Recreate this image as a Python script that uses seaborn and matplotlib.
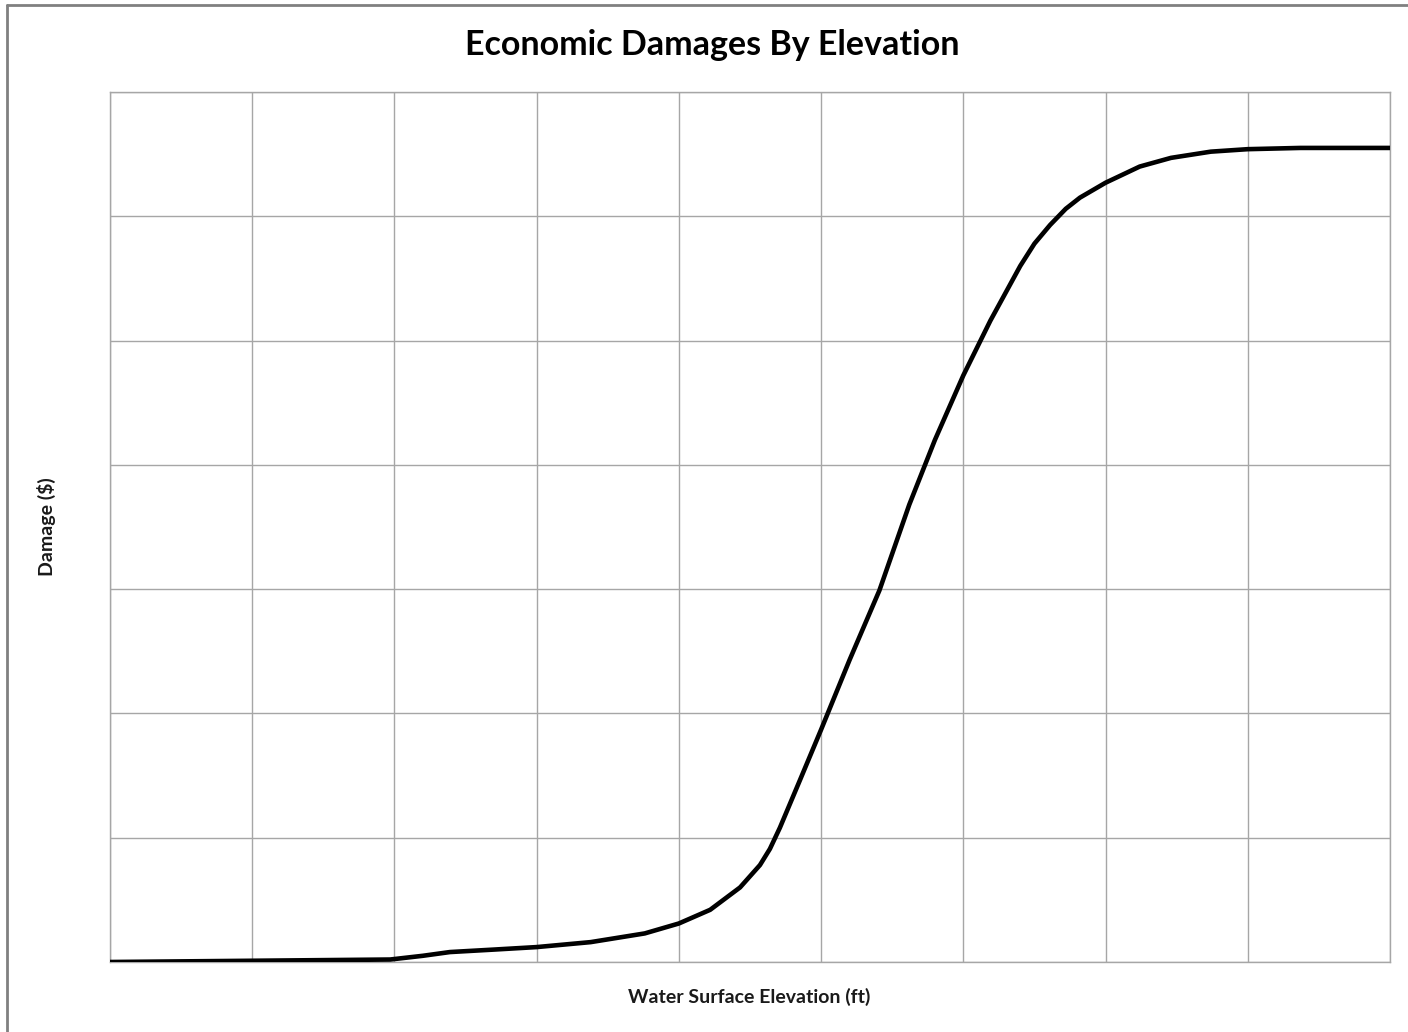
import matplotlib
matplotlib.use("Agg")
import matplotlib.pyplot as plt
import seaborn as sns
import pandas as pd
from matplotlib.lines import Line2D

# Data (grid units)
elevation = [0.0, 1.0, 1.97, 2.2, 2.39, 2.7, 3.0, 3.38, 3.76, 4.0, 4.22, 4.43, 4.57,
             4.64, 4.71, 4.85, 5.0, 5.2, 5.41, 5.62, 5.8, 6.0, 6.19, 6.4, 6.5, 6.61, 6.72,
             6.82, 7.0, 7.24, 7.46, 7.74, 8.0, 8.37, 9.0]
damage = [0.0, 0.01, 0.02, 0.05, 0.08, 0.10, 0.12, 0.16, 0.23, 0.31, 0.42, 0.60, 0.78,
          0.91, 1.08, 1.46, 1.87, 2.43, 2.99, 3.68, 4.20, 4.72, 5.16, 5.60, 5.78, 5.93, 6.06,
          6.15, 6.27, 6.40, 6.47, 6.52, 6.54, 6.55, 6.55]
x_ticks = list(range(0, 10))
y_ticks = list(range(0, 8))

df = pd.DataFrame({"elevation": elevation, "damage": damage})

sns.set_theme(style="white")
plt.rcParams['font.family'] = ['Lato', 'DejaVu Sans']

fig = plt.figure(figsize=(14.08, 10.32), dpi=100)
ax = fig.add_axes([110/1408, 1 - 962/1032, 1280/1408, 870/1032])

sns.lineplot(data=df, x="elevation", y="damage", ax=ax, color="black",
             linewidth=3.3, solid_capstyle="butt", solid_joinstyle="round", zorder=3)

ax.set_xlim(0, 9)
ax.set_ylim(0, 7)
ax.set_xticks(x_ticks)
ax.set_yticks(y_ticks)
ax.set_xticklabels([])
ax.set_yticklabels([])
ax.tick_params(length=0)
ax.grid(True, color="#a6a6a6", linewidth=1.0)
for s in ax.spines.values():
    s.set_color("#a6a6a6")
    s.set_linewidth(1.0)

ax.set_xlabel("")
ax.set_ylabel("")
fig.text(749/1408, 1 - 997/1032, "Water Surface Elevation (ft)", ha="center", va="center",
         fontsize=14, fontweight="bold", color="#1a1a1a")
fig.text(46/1408, 1 - 527/1032, "Damage ($)", ha="center", va="center", rotation=90,
         fontsize=14, fontweight="bold", color="#1a1a1a")
fig.text(712/1408, 1 - 45/1032, "Economic Damages By Elevation", ha="center", va="center",
         fontsize=24.5, fontweight="bold", color="black")

# outer chart frame (top and left visible)
fig.add_artist(Line2D([7/1408, 1], [1 - 5/1032, 1 - 5/1032], color="#808080", linewidth=2,
                      transform=fig.transFigure))
fig.add_artist(Line2D([7/1408, 7/1408], [0, 1 - 5/1032], color="#808080", linewidth=2,
                      transform=fig.transFigure))

fig.savefig("out.png", dpi=100)
